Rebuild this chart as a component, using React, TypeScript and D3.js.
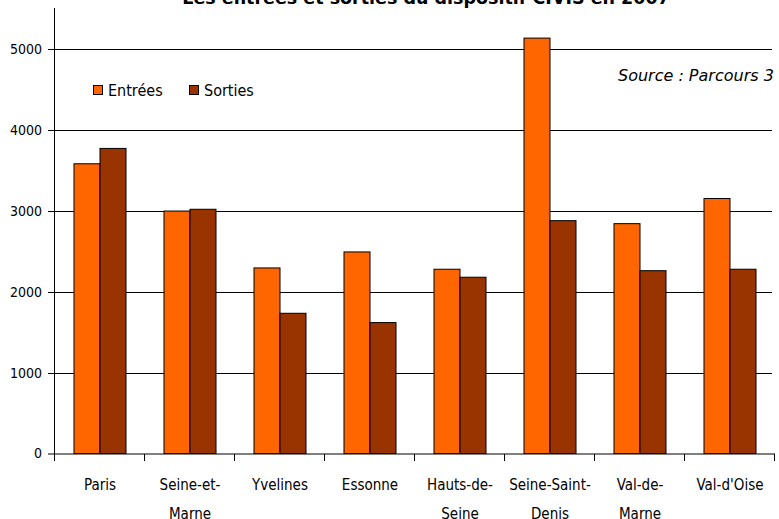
import React from "react";
import * as d3 from "d3";

const categories = [
  ["Paris"],
  ["Seine-et-", "Marne"],
  ["Yvelines"],
  ["Essonne"],
  ["Hauts-de-", "Seine"],
  ["Seine-Saint-", "Denis"],
  ["Val-de-", "Marne"],
  ["Val-d'Oise"],
];
const seriesNames = ["Entrées", "Sorties"];
const entrees = [3585, 3000, 2296, 2494, 2280, 5140, 2844, 3155];
const sorties = [3775, 3022, 1735, 1620, 2181, 2881, 2262, 2280];
const yTicks = [0, 1000, 2000, 3000, 4000, 5000];
const colors = ["#FF6600", "#993300"];

const W = 779;
const H = 519;
const FONT = "'DejaVu Sans Condensed', 'DejaVu Sans', sans-serif";

export default function App() {
  const keys = categories.map((c) => c.join(""));
  const x = d3.scaleBand().domain(keys).range([55, 775]).padding(0);
  const xs = d3.scaleBand().domain(seriesNames).range([19, 71]).padding(0);
  const y = d3.scaleLinear().domain([0, 5500]).range([453.5, 9]);
  const values = [entrees, sorties];

  return (
    <svg
      width={W}
      height={H}
      style={{ position: "absolute", left: 0, top: 0, background: "#fff" }}
      fontFamily={FONT}
    >
      {/* title (cut off at top) */}
      <text
        x={426}
        y={3.5}
        textAnchor="middle"
        fontSize={17.5}
        fontWeight="bold"
        fontFamily="'DejaVu Sans', sans-serif"
        fill="#000"
      >
        Les entrées et sorties du dispositif CIVIS en 2007
      </text>

      {/* gridlines */}
      {yTicks.filter((t) => t > 0).map((t) => (
        <line
          key={"g" + t}
          x1={48}
          x2={772}
          y1={Math.round(y(t)) + 0.5}
          y2={Math.round(y(t)) + 0.5}
          stroke="#000"
          strokeWidth={1}
        />
      ))}

      {/* y tick labels */}
      {yTicks.map((t) => (
        <text
          key={"t" + t}
          x={42}
          y={y(t)}
          dy="0.35em"
          textAnchor="end"
          fontSize={14}
          fill="#000"
        >
          {t}
        </text>
      ))}

      {/* bars */}
      {values.map((vals, si) =>
        vals.map((v, i) => (
          <rect
            key={si + "-" + i}
            x={(x(keys[i]) as number) + (xs(seriesNames[si]) as number)}
            y={y(v)}
            width={xs.bandwidth()}
            height={y(0) - y(v)}
            fill={colors[si]}
            stroke="#000"
            strokeWidth={1}
          />
        ))
      )}

      {/* axes */}
      <line x1={54.5} x2={54.5} y1={8} y2={454} stroke="#000" strokeWidth={1} />
      <line x1={48} x2={775} y1={454} y2={454} stroke="#000" strokeWidth={1} />
      {keys.concat(["end"]).map((k, i) => {
        const xx = 55 + i * x.bandwidth();
        return (
          <line
            key={"xt" + i}
            x1={xx - 0.5}
            x2={xx - 0.5}
            y1={454}
            y2={461}
            stroke="#000"
            strokeWidth={1}
          />
        );
      })}

      {/* category labels */}
      {categories.map((lines, i) => (
        <text
          key={"c" + i}
          x={(x(keys[i]) as number) + x.bandwidth() / 2}
          y={490}
          textAnchor="middle"
          fontSize={15}
          fill="#000"
        >
          {lines.map((l, j) => (
            <tspan key={j} x={(x(keys[i]) as number) + x.bandwidth() / 2} dy={j === 0 ? 0 : 29}>
              {l}
            </tspan>
          ))}
        </text>
      ))}

      {/* legend */}
      {seriesNames.map((s, i) => {
        const lx = [93, 189][i];
        return (
          <g key={"l" + s}>
            <rect x={lx + 0.5} y={85.5} width={9} height={9} fill={colors[i]} stroke="#000" strokeWidth={1} />
            <text x={lx + 15} y={90} dy="0.35em" fontSize={16} fill="#000">
              {s}
            </text>
          </g>
        );
      })}

      {/* source */}
      <text
        x={618}
        y={75}
        dy="0.35em"
        fontSize={16}
        fontStyle="italic"
        fontFamily="'DejaVu Sans', sans-serif"
        fill="#000"
      >
        Source : Parcours 3
      </text>
    </svg>
  );
}
